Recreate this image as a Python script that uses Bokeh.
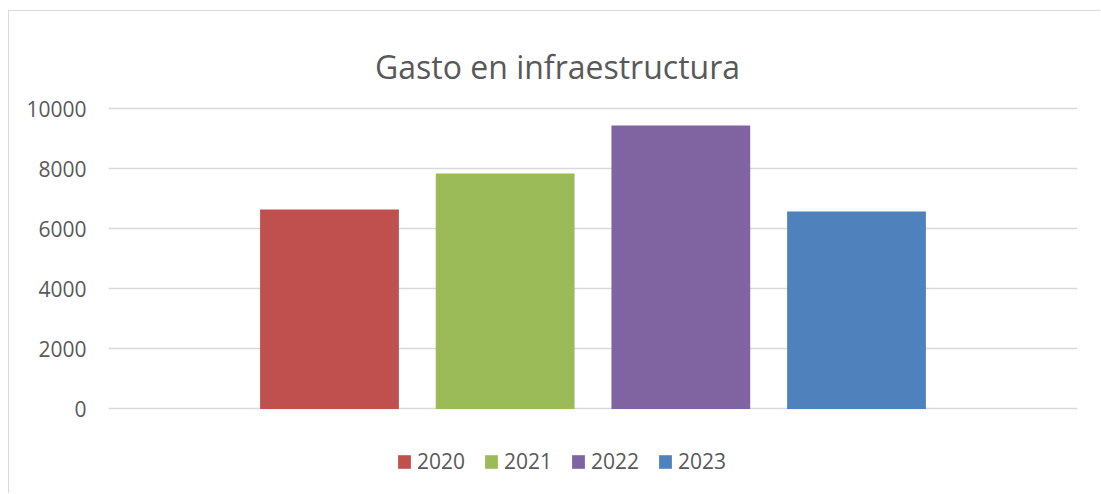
from bokeh.plotting import figure
from bokeh.models import ColumnDataSource, Range1d, FixedTicker, NumeralTickFormatter, Label
from bokeh.embed import file_html
from bokeh.resources import INLINE

# data
years = ["2020", "2021", "2022", "2023"]
values = [6650, 7850, 9450, 6580]
colors = ["#C0504D", "#9BBB59", "#8064A2", "#4F81BD"]
y_ticks = [0, 2000, 4000, 6000, 8000, 10000]
title_text = "Gasto en infraestructura"

FONT = "Open Sans"
TXT = "#595959"

n = len(years)
xpos = [i - (n - 1) / 2 for i in range(n)]
src = ColumnDataSource(dict(x=xpos, top=values, year=years, color=colors))

# frame extends above/below the value axis so title and legend sit inside it
p = figure(width=1092, height=483, output_backend="svg", toolbar_location=None,
           x_range=Range1d(-2.758, 2.758), y_range=Range1d(-2717, 12950),
           min_border_left=99, min_border_right=24, min_border_top=9, min_border_bottom=4)
p.styles = {"border-top": "1px solid #d9d9d9", "border-left": "1px solid #d9d9d9",
            "margin-top": "10px", "margin-left": "8px"}
p.outline_line_color = None
p.background_fill_color = "white"
p.border_fill_color = "white"

r = p.vbar(x="x", top="top", bottom=0, width=0.79, color="color", line_color=None,
           legend_field="year", source=src)

p.xaxis.visible = False
p.xgrid.visible = False
p.ygrid.grid_line_color = "#d9d9d9"
p.ygrid.grid_line_width = 1.6
p.ygrid.ticker = FixedTicker(ticks=y_ticks)

ya = p.yaxis[0]
ya.ticker = FixedTicker(ticks=y_ticks)
ya.formatter = NumeralTickFormatter(format="0")
ya.axis_line_color = None
ya.major_tick_line_color = None
ya.minor_tick_line_color = None
ya.major_tick_out = 0
ya.major_label_standoff = 22
ya.major_label_text_font = FONT
ya.major_label_text_font_size = "21px"
ya.major_label_text_color = TXT

p.add_layout(Label(x=-0.202, y=11427, text=title_text, text_align="center", text_baseline="alphabetic",
                   text_font=FONT, text_font_size="32px", text_color=TXT))

leg = p.legend[0]
leg.orientation = "horizontal"
leg.location = (288, 15)
leg.padding = 0
leg.margin = 0
leg.spacing = 18
leg.border_line_color = None
leg.background_fill_alpha = 0
leg.glyph_width = 16
leg.glyph_height = 17
leg.label_standoff = 5
leg.label_text_font = FONT
leg.label_text_font_size = "21px"
leg.label_text_color = TXT

open("out.html", "w").write(file_html(p, INLINE))
